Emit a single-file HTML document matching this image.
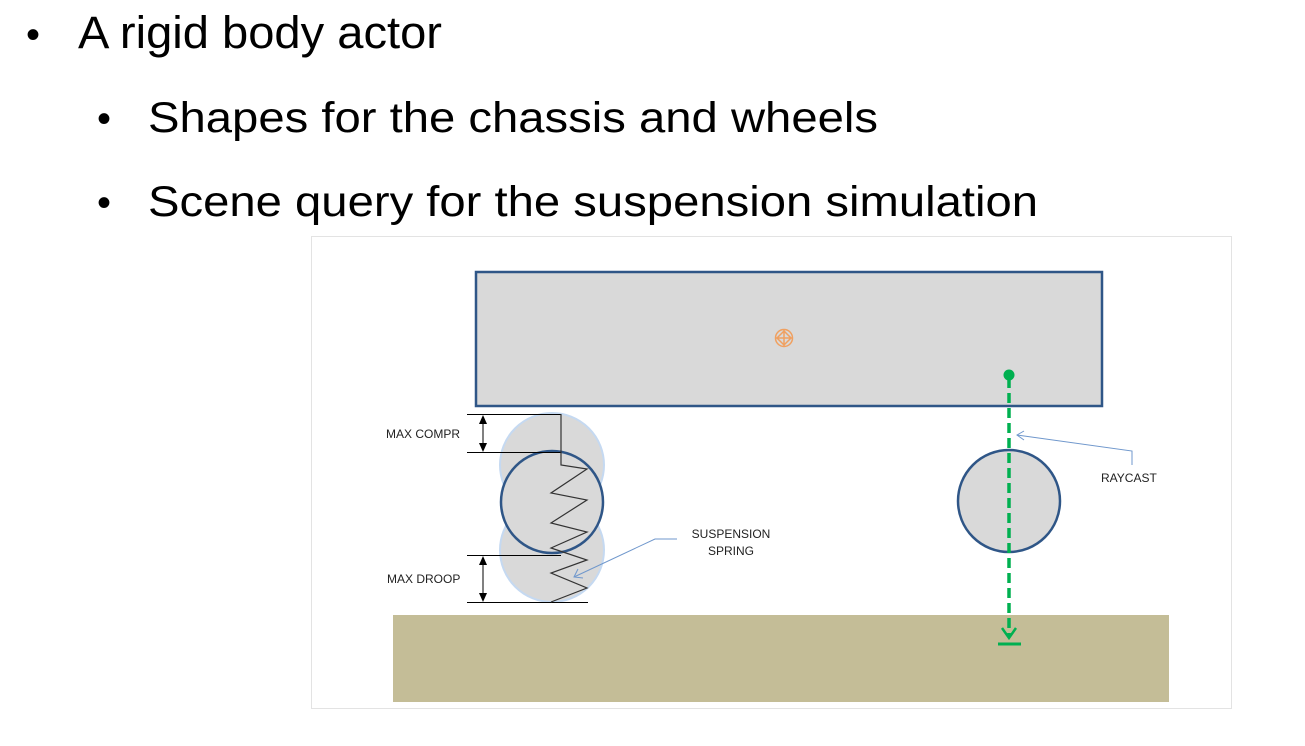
<!DOCTYPE html>
<html><head><meta charset="utf-8"><style>
html,body{margin:0;padding:0;background:#fff;}
svg{display:block;}
text{font-family:"Liberation Sans",Arial,sans-serif;}
</style></head><body>
<svg width="1305" height="746" viewBox="0 0 1305 746" xmlns="http://www.w3.org/2000/svg">
<rect width="1305" height="746" fill="#fff"/>
<g fill="#000">
  <text x="26" y="48" font-size="40">•</text>
  <text x="78" y="48" font-size="45" textLength="364" lengthAdjust="spacingAndGlyphs">A rigid body actor</text>
  <text x="97" y="132" font-size="40">•</text>
  <text x="148" y="132" font-size="43" textLength="730" lengthAdjust="spacingAndGlyphs">Shapes for the chassis and wheels</text>
  <text x="97" y="216" font-size="40">•</text>
  <text x="148" y="216" font-size="43" textLength="890" lengthAdjust="spacingAndGlyphs">Scene query for the suspension simulation</text>
</g>
<g>
  <rect x="311.5" y="236.5" width="920" height="472" fill="#fff" stroke="#e3e3e3"/>
  <rect x="476" y="272" width="626" height="134" fill="#d9d9d9" stroke="#2f5687" stroke-width="2.5"/>
  <g fill="none" stroke="#f0a060" stroke-width="1.5">
    <circle cx="784" cy="338" r="8.5"/>
    <path d="M776 338 L792 338 M784 330 L784 346 M784 331 L791 338 L784 345 L777 338 Z"/>
  </g>
  <rect x="393" y="615" width="776" height="87" fill="#c4bd97"/>
  <circle cx="552" cy="465" r="52" fill="#d9d9d9" stroke="#c5d9f1" stroke-width="2"/>
  <circle cx="552" cy="550" r="52" fill="#d9d9d9" stroke="#c5d9f1" stroke-width="2"/>
  <circle cx="552" cy="502" r="51" fill="#d9d9d9" stroke="#2f5687" stroke-width="2.5"/>
  <g stroke="#000" stroke-width="1" fill="none">
    <line x1="467" y1="414.5" x2="561" y2="414.5"/>
    <line x1="467" y1="452.5" x2="561" y2="452.5"/>
    <line x1="467" y1="555.5" x2="561" y2="555.5"/>
    <line x1="467" y1="602.5" x2="588" y2="602.5"/>
    <line x1="483" y1="418" x2="483" y2="448"/>
    <line x1="483" y1="559" x2="483" y2="598"/>
  </g>
  <g fill="#000">
    <path d="M483 415 L479 424 L487 424 Z"/><path d="M483 452 L479 443 L487 443 Z"/>
    <path d="M483 556 L479 565 L487 565 Z"/><path d="M483 602 L479 593 L487 593 Z"/>
  </g>
  <polyline fill="none" stroke="#333" stroke-width="1.2"
    points="561,414 561,465 587,469 551,493 587,500 551,523 587,532 551,548 587,560 551,573 587,588 551,602"/>
  <text x="386" y="438" font-size="12" fill="#222">MAX COMPR</text>
  <text x="387" y="583" font-size="12" fill="#222">MAX DROOP</text>
  <text x="731" y="538" font-size="12" fill="#222" text-anchor="middle">SUSPENSION</text>
  <text x="731" y="555" font-size="12" fill="#222" text-anchor="middle">SPRING</text>
  <g fill="none" stroke="#6f97cc" stroke-width="1">
    <polyline points="677,539 655,539 574,577"/>
    <polyline points="578,569 574,577 583,578"/>
  </g>
  <circle cx="1009" cy="501" r="51" fill="#d9d9d9" stroke="#2f5687" stroke-width="2.5"/>
  <line x1="1009" y1="378" x2="1009" y2="636" stroke="#00b050" stroke-width="3.5" stroke-dasharray="10,5"/>
  <circle cx="1009" cy="375" r="5.5" fill="#00b050"/>
  <polyline points="1002,628 1009,638 1016,628" fill="none" stroke="#00b050" stroke-width="2.5"/>
  <line x1="998" y1="644" x2="1021" y2="644" stroke="#00b050" stroke-width="3"/>
  <text x="1101" y="482" font-size="12" fill="#222">RAYCAST</text>
  <g fill="none" stroke="#6f97cc" stroke-width="1">
    <polyline points="1132,465 1132,451 1017,435"/>
    <polyline points="1024,431 1017,435 1024,440"/>
  </g>
</g>
</svg>
</body></html>
